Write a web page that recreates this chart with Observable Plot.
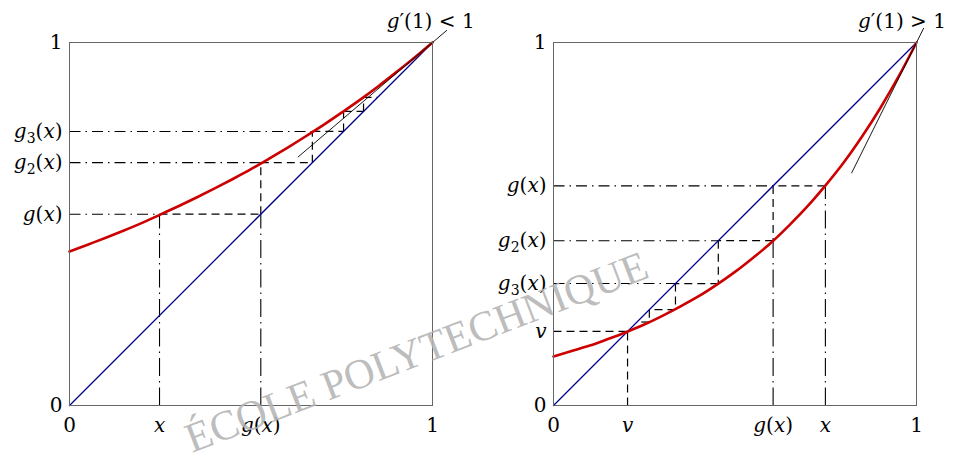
<!DOCTYPE html>
<html>
<head>
<meta charset="utf-8">
<script src="https://cdn.jsdelivr.net/npm/d3@7"></script>
<script src="https://cdn.jsdelivr.net/npm/@observablehq/plot@0.6"></script>
<style>
  html, body { margin: 0; padding: 0; background: #fff; }
  #wrap { position: relative; width: 953px; height: 458px; display: flex; overflow: hidden; }
  #wrap svg { display: block; }
  #overlay { position: absolute; left: 0; top: 0; pointer-events: none; }
</style>
</head>
<body>
<div id="wrap"></div>
<script>
// ---- data ----
const curveX = [0, 0.05, 0.1, 0.15, 0.2, 0.25, 0.3, 0.35, 0.4, 0.45, 0.5, 0.55, 0.6, 0.65, 0.7, 0.75, 0.8, 0.85, 0.9, 0.95, 1];
// left panel: g'(1) < 1
const leftCurveY = [0.424, 0.443, 0.462, 0.482, 0.503, 0.526, 0.549, 0.573, 0.598, 0.624, 0.651, 0.680, 0.710, 0.741, 0.773, 0.807, 0.842, 0.879, 0.918, 0.958, 1];
const leftIterates = [0.248, 0.527, 0.669, 0.755, 0.810, 0.849];
const leftXLabels = ["0", "x", "g(x)", "1"];
const leftYLabels = ["0", "g(x)", "g_2(x)", "g_3(x)", "1"];
const leftTangent = [[0.629, 0.684], [1.04, 1.034]];
const leftNote = "g′(1) < 1";
// right panel: g'(1) > 1
const rightCurveY = [0.135, 0.150, 0.165, 0.183, 0.202, 0.223, 0.247, 0.273, 0.301, 0.333, 0.368, 0.407, 0.449, 0.497, 0.549, 0.607, 0.670, 0.741, 0.819, 0.905, 1];
const rightIterates = [0.749, 0.605, 0.454, 0.336, 0.264, 0.230];
const rightFixed = 0.204;
const rightXLabels = ["0", "v", "g(x)", "x", "1"];
const rightYLabels = ["0", "v", "g_3(x)", "g_2(x)", "g(x)", "1"];
const rightTangent = [[0.821, 0.640], [1.02, 1.04]];
const rightNote = "g′(1) > 1";
const watermark = "ÉCOLE POLYTECHNIQUE";

const LABEL_STYLE = "white-space: pre; font-family: 'DejaVu Serif', serif; font-size: 20px;";
const NS = "http://www.w3.org/2000/svg";

function mathify(t) {
  const s = t.textContent;
  while (t.firstChild) t.removeChild(t.firstChild);
  t.setAttribute("style", LABEL_STYLE);
  let shift = 0;
  for (let i = 0; i < s.length; i++) {
    const c = s[i];
    const ts = document.createElementNS(NS, "tspan");
    if (c === "_") {
      ts.textContent = s[i + 1];
      ts.setAttribute("style", "font-size: 14px; font-style: normal");
      ts.setAttribute("dy", "5");
      shift = 5;
      i++;
    } else {
      ts.textContent = c;
      if (/[a-zA-Z]/.test(c)) ts.setAttribute("style", "font-style: italic");
      if (shift) { ts.setAttribute("dy", String(-shift)); shift = 0; }
    }
    t.appendChild(ts);
  }
}

function panel(o) {
  const it = o.iterates;
  const n = it.length - 1;
  const curve = curveX.map((x, i) => ({x, y: o.curveY[i]}));
  const vDashDot = [], hDashDot = [], dashed = [];
  vDashDot.push({x1: it[0], y1: 0, x2: it[0], y2: it[1]});
  vDashDot.push({x1: it[1], y1: 0, x2: it[1], y2: Math.min(it[1], it[2])});
  for (let k = 1; k <= 3; k++) hDashDot.push({x1: 0, y1: it[k], x2: Math.min(it[k - 1], it[k]), y2: it[k]});
  for (let k = 1; k <= n; k++) dashed.push({x1: it[k - 1], y1: it[k], x2: it[k], y2: it[k]});
  for (let k = 1; k < n; k++) dashed.push({x1: it[k], y1: it[k], x2: it[k], y2: it[k + 1]});
  if (o.fixed != null) {
    dashed.push({x1: 0, y1: o.fixed, x2: o.fixed, y2: o.fixed});
    dashed.push({x1: o.fixed, y1: 0, x2: o.fixed, y2: o.fixed});
  }
  const xMap = new Map(o.xTicks.map((d, i) => [d, o.xLabels[i]]));
  const yMap = new Map(o.yTicks.map((d, i) => [d, o.yLabels[i]]));
  const tangent = [{x1: o.tangent[0][0], y1: o.tangent[0][1], x2: o.tangent[1][0], y2: o.tangent[1][1]}];
  const svg = Plot.plot({
    width: o.width,
    height: 458,
    marginLeft: o.marginLeft,
    marginRight: o.marginRight,
    marginTop: 42,
    marginBottom: 53,
    style: "font-family: 'DejaVu Serif', serif; font-size: 20px; color: #000; background: #fff; overflow: visible;",
    x: {domain: [0, 1], ticks: o.xTicks, tickFormat: d => xMap.get(d), tickSize: 0, tickPadding: 12, label: null},
    y: {domain: [0, 1], ticks: o.yTicks, tickFormat: d => yMap.get(d), tickSize: 0, tickPadding: 7, label: null},
    marks: [
      Plot.link(vDashDot, {x1: "x1", y1: "y1", x2: "x2", y2: "y2", stroke: "#000", strokeWidth: 1.1, strokeDasharray: "18,5,1.5,5"}),
      Plot.link(hDashDot, {x1: "x1", y1: "y1", x2: "x2", y2: "y2", stroke: "#000", strokeWidth: 1.1, strokeDasharray: "11,5,1.5,5"}),
      Plot.link(dashed, {x1: "x1", y1: "y1", x2: "x2", y2: "y2", stroke: "#000", strokeWidth: 1.2, strokeDasharray: "8,5"}),
      Plot.line([0, 1], {x: d => d, y: d => d, stroke: "#00008b", strokeWidth: 1.3}),
      Plot.line(curve, {x: "x", y: "y", stroke: "#cc0000", strokeWidth: 2.6, curve: "catmull-rom"}),
      Plot.link(tangent, {x1: "x1", y1: "y1", x2: "x2", y2: "y2", stroke: "#000", strokeWidth: 0.9}),
      Plot.frame({stroke: "#666", strokeWidth: 1}),
      Plot.text([o.note], {x: [o.noteX], y: [1.058], text: d => d, fontSize: 20, textAnchor: "middle", fill: "#000"})
    ]
  });
  svg.querySelectorAll("text").forEach(t => {
    if (t.textContent.length) mathify(t);
  });
  return svg;
}

const wrap = document.getElementById("wrap");
wrap.appendChild(panel({
  width: 476, marginLeft: 69, marginRight: 44,
  curveY: leftCurveY, iterates: leftIterates, fixed: null,
  xTicks: [0, leftIterates[0], leftIterates[1], 1], xLabels: leftXLabels,
  yTicks: [0, leftIterates[1], leftIterates[2], leftIterates[3], 1], yLabels: leftYLabels,
  tangent: leftTangent, note: leftNote, noteX: 0.995
}));
wrap.appendChild(panel({
  width: 477, marginLeft: 77, marginRight: 37,
  curveY: rightCurveY, iterates: rightIterates, fixed: rightFixed,
  xTicks: [0, rightFixed, rightIterates[1], rightIterates[0], 1], xLabels: rightXLabels,
  yTicks: [0, rightFixed, rightIterates[3], rightIterates[2], rightIterates[1], 1], yLabels: rightYLabels,
  tangent: rightTangent, note: rightNote, noteX: 0.96
}));

// watermark overlay
const ov = d3.select("#wrap").append("svg").attr("id", "overlay").attr("width", 953).attr("height", 458);
ov.append("text")
  .attr("x", 192).attr("y", 453)
  .attr("transform", "rotate(-21, 192, 453)")
  .attr("style", "font-family: 'Liberation Serif', serif; font-size: 42px;")
  .attr("fill", "#b4b4b4")
  .attr("fill-opacity", 0.9)
  .text(watermark);
</script>
</body>
</html>
